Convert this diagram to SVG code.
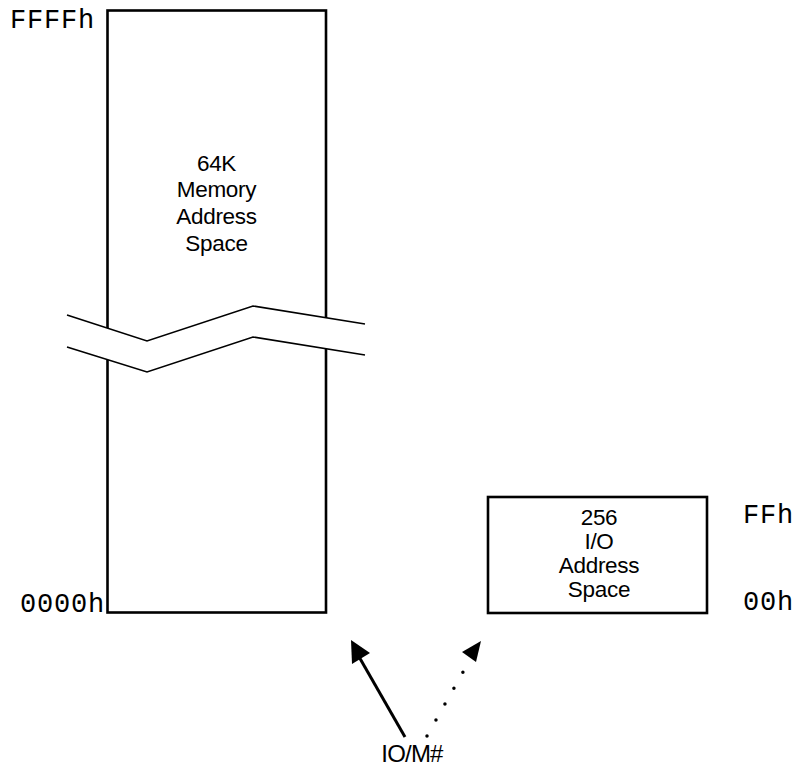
<svg xmlns="http://www.w3.org/2000/svg" width="798" height="766" viewBox="0 0 798 766">
<style>
.box{fill:#fff;stroke:#000;stroke-width:2.6}
.lbl{font-family:"Liberation Sans",Arial,sans-serif;font-size:22.5px;text-anchor:middle;fill:#000;letter-spacing:-0.3px}
.mono{font-family:"Liberation Mono","Courier New",monospace;font-size:27px;fill:#000;letter-spacing:0.8px;font-weight:300}
.brk{fill:none;stroke:#000;stroke-width:1.6}
</style>
<rect width="798" height="766" fill="#fff"/>
<g id="memory">
<rect class="box" x="107.5" y="10.5" width="218.5" height="602"/>
<text class="lbl" x="216.5" y="170.5">64K</text>
<text class="lbl" x="216.5" y="197">Memory</text>
<text class="lbl" x="216.5" y="224">Address</text>
<text class="lbl" x="216.5" y="250.5">Space</text>
</g>
<g id="break">
<polygon points="67,315 147,341 253,306 365,324 365,355 253,337 147,372 67,347" fill="#fff"/>
<polyline class="brk" points="67,315 147,341 253,306 365,324"/>
<polyline class="brk" points="67,347 147,372 253,337 365,355"/>
</g>
<g id="io">
<rect class="box" x="488" y="497" width="219" height="116"/>
<text class="lbl" x="599" y="525">256</text>
<text class="lbl" x="599" y="549">I/O</text>
<text class="lbl" x="599" y="573">Address</text>
<text class="lbl" x="599" y="597">Space</text>
</g>
<g id="addr-labels">
<text class="mono" x="10" y="28">FFFFh</text>
<text class="mono" x="105" y="612" text-anchor="end">0000h</text>
<text class="mono" x="743" y="523">FFh</text>
<text class="mono" x="743" y="610">00h</text>
</g>
<g id="connectors">
<line x1="405" y1="737" x2="358" y2="655" stroke="#000" stroke-width="3"/>
<polygon points="351,640 352,664 370,653" fill="#000"/>
<line x1="427" y1="736" x2="463" y2="672" stroke="#000" stroke-width="3.5" stroke-linecap="round" stroke-dasharray="0 18.3"/>
<polygon points="481,641 462,652 476,662" fill="#000"/>
</g>
<g id="iom">
<text class="lbl" x="412" y="762" style="font-size:24px;letter-spacing:-0.8px">IO/M#</text>
</g>
</svg>
